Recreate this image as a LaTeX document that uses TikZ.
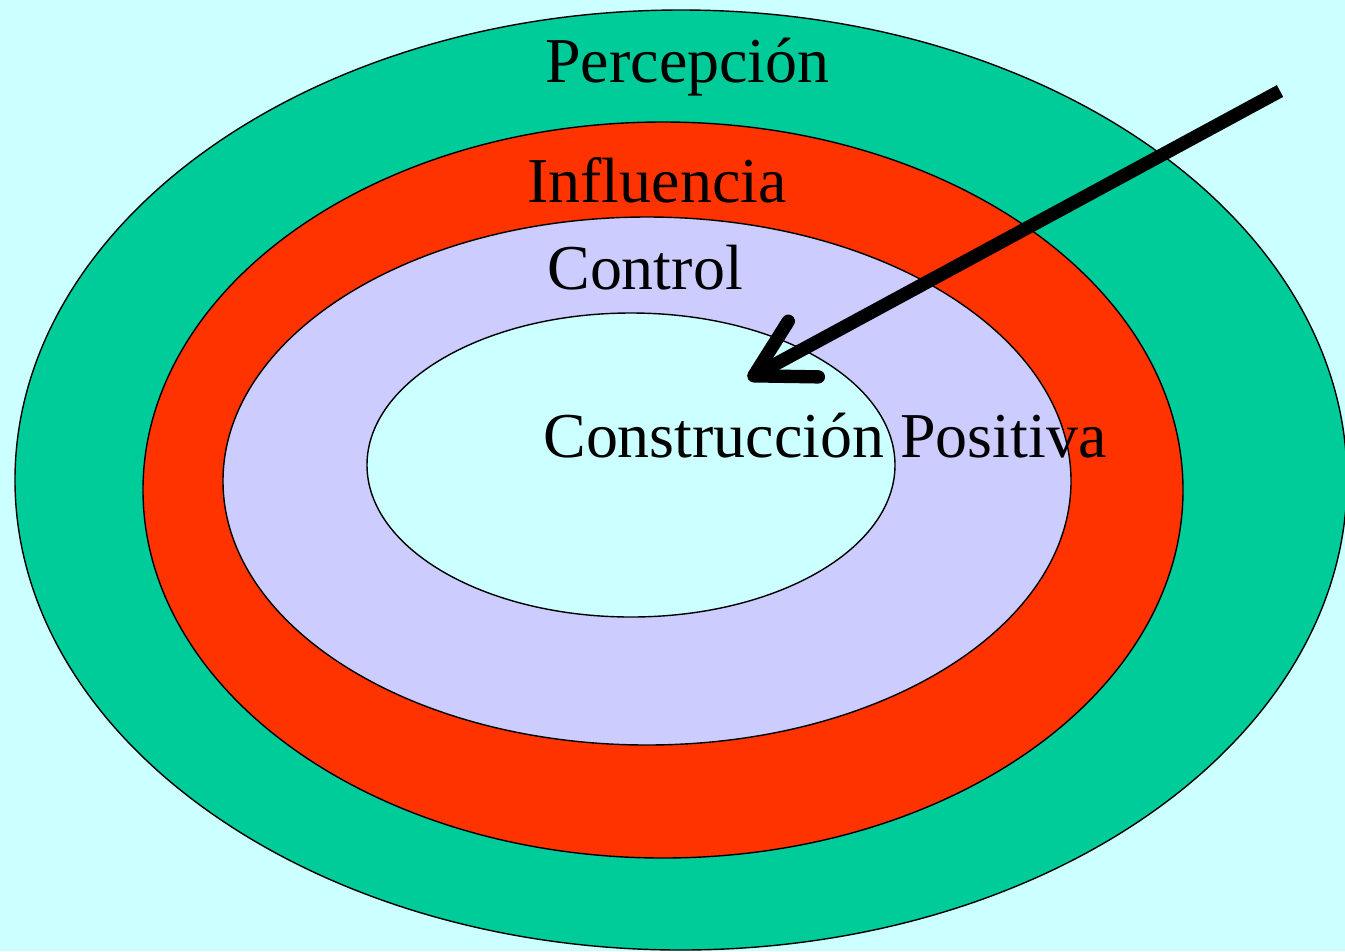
\documentclass[tikz,border=0pt]{standalone}
\usepackage{fontspec}
\setmainfont{Liberation Serif}
\usetikzlibrary{arrows.meta}
\definecolor{fondo}{HTML}{CCFFFF}
\definecolor{verde}{HTML}{00CC99}
\definecolor{rojo}{HTML}{FF3300}
\definecolor{lila}{HTML}{CCCCFF}
\tikzset{
  anillo/.style={draw=black, line width=0.8pt},
  etiqueta/.style={anchor=base west, inner sep=0pt, font=\fontsize{36.4}{40}\selectfont}
}
\begin{document}
\begin{tikzpicture}[x=0.02cm, y=-0.02cm]
  \fill[fondo] (0,0) rectangle (1345,951);
  \useasboundingbox (0,0) rectangle (1345,951);
  % anillos
  \filldraw[anillo, fill=verde] (681,480) ellipse (666 and 470);
  \filldraw[anillo, fill=rojo] (663,490) ellipse (520 and 368);
  \filldraw[anillo, fill=lila] (647,481) ellipse (424 and 264);
  \filldraw[anillo, fill=fondo] (631,465) ellipse (264 and 152);
  % textos
  \node[etiqueta] (percepcion) at (545,82) {Percepción};
  \node[etiqueta] (influencia) at (527,202) {Influencia};
  \node[etiqueta] (control) at (547,289) {Control};
  \node[etiqueta] (construccion) at (543,457) {Construcción Positiva};
  % flecha
  \coordinate (inicio) at (1280,91);
  \coordinate (punta) at (748,379);
  \draw[line width=7.6pt, -{Straight Barb[round, length=32pt, width=36pt]}] (inicio) -- (punta);
\end{tikzpicture}
\end{document}
